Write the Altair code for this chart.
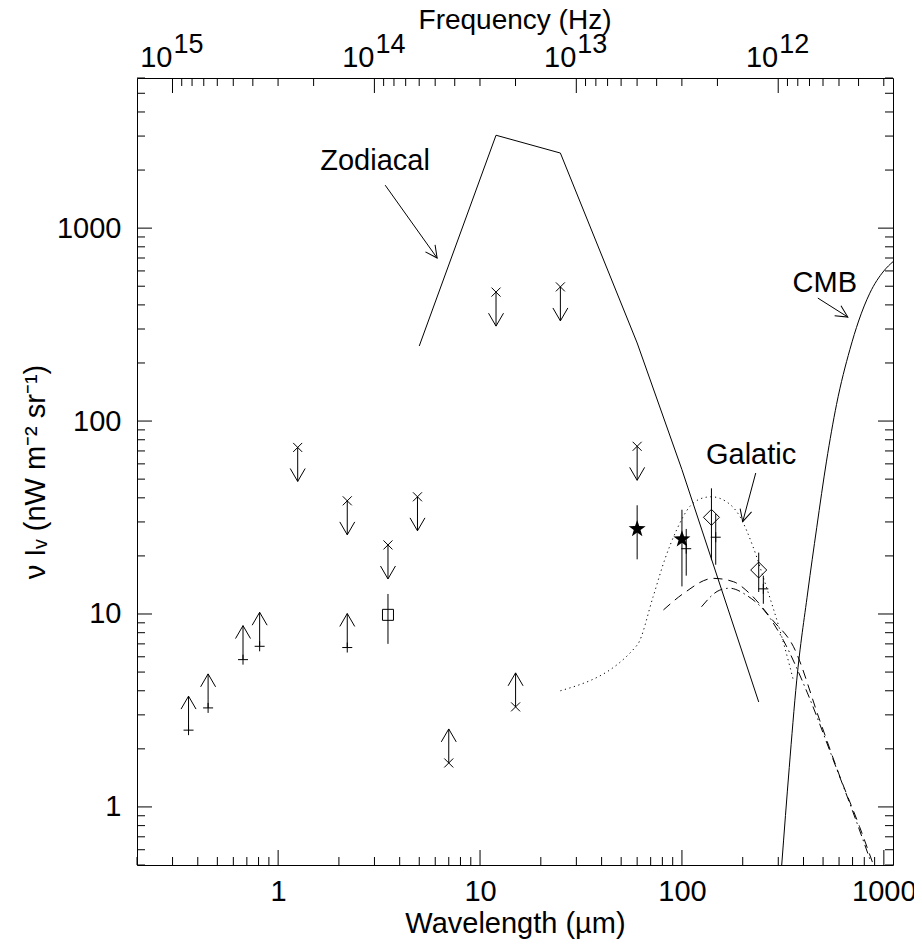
import math
import altair as alt
import pandas as pd

FONT = "Liberation Sans"
W, H = 756, 787
XD = [0.2, 1110]
YD = [0.5, 6000]

# ---------------- data ----------------
zodi_wl = [5, 12, 25, 60, 100, 240]
zodi_val = [245, 3030, 2450, 254, 56, 3.5]

cmb_wl = [312, 340, 370, 420, 465, 520, 583, 679, 750, 852, 1000, 1110]
cmb_val = [0.5, 1.6, 4.5, 13, 28, 62, 122, 235, 330, 460, 600, 670]

gal_wl = [25, 60, 72, 82, 94, 110, 132, 140, 166, 194, 225, 262, 305, 343, 356]
gal_val = [4.0, 6.9, 12.3, 19.0, 27.2, 36.3, 40.3, 40.5, 38.2, 31.9, 22.3, 13.8, 8.3, 5.3, 4.55]

dash_wl = [81, 102, 143, 180, 216, 281, 356, 482, 605, 758, 882]
dash_val = [10.5, 12.8, 15.3, 14.7, 12.8, 9.3, 6.8, 2.8, 1.44, 0.79, 0.51]

dd_wl = [125, 154, 172, 209, 262, 318, 418, 562, 706, 856]
dd_val = [10.9, 13.3, 13.6, 12.5, 10.1, 7.3, 3.9, 1.75, 0.93, 0.53]

# lower limits drawn as "+" with an upward arrow
llp_wl = [0.36, 0.45, 0.67, 0.81, 2.2]
llp_val = [2.5, 3.26, 5.8, 6.8, 6.7]
# upper limits drawn as "x" with a downward arrow
ul_wl = [1.25, 2.2, 3.5, 4.9, 12, 25, 60]
ul_val = [73, 38.6, 22.8, 40.5, 466, 496, 74]
# lower limits drawn as "x" with an upward arrow
llx_wl = [7.0, 15]
llx_val = [1.69, 3.3]

sq_wl = [3.5]
sq_val = [9.9]
sq_lo = [7.0]
sq_hi = [12.7]

star_wl = [60, 100]
star_val = [27.6, 24.4]
star_lo = [19.2, 13.9]
star_hi = [36.6, 34.7]

plus_wl = [105, 147, 253]
plus_val = [21.8, 25, 13.5]
plus_lo = [15.8, 18, 11.3]
plus_hi = [27.6, 33, 15.8]

dia_wl = [140, 240]
dia_val = [31.7, 16.9]
dia_lo = [19.0, 13.0]
dia_hi = [44.8, 20.8]

ann_text = ["Zodiacal", "Galatic", "CMB"]
ann_x = [3.02, 220, 510]
ann_y = [2225, 66.7, 519]
arr_x1 = [3.39, 232, 471]
arr_y1 = [1670, 53.8, 434]
arr_x2 = [6.13, 200, 663]
arr_y2 = [700, 30.1, 346]
arr_angle = [144.5, 195.3, 122.3]

x_major = [1, 10, 100, 1000]
x_minor = [0.2, 0.3, 0.4, 0.5, 0.6, 0.7, 0.8, 0.9,
           2, 3, 4, 5, 6, 7, 8, 9,
           20, 30, 40, 50, 60, 70, 80, 90,
           200, 300, 400, 500, 600, 700, 800, 900]
y_major = [1, 10, 100, 1000]
y_minor = [0.5, 0.6, 0.7, 0.8, 0.9, 2, 3, 4, 5, 6, 7, 8, 9,
           20, 30, 40, 50, 60, 70, 80, 90,
           200, 300, 400, 500, 600, 700, 800, 900,
           2000, 3000, 4000, 5000, 6000]
f_major_exp = [15, 14, 13, 12]
f_minor_mant = [2, 3, 4, 5, 6, 7, 8, 9]
f_minor_exp = [11, 12, 13, 14]

C_UM = 2.99792458e14  # c in micron * Hz

# ---------------- scales / axes ----------------
xs = alt.Scale(type="log", domain=XD, nice=False, zero=False)
ys = alt.Scale(type="log", domain=YD, nice=False, zero=False)

XA = alt.Axis(values=x_major, format="~g", ticks=False, domain=False, grid=False,
              labelFont=FONT, labelFontSize=29, labelColor="black", labelPadding=12,
              labelFlush=False, labelOverlap=False,
              title="Wavelength (µm)", titleFont=FONT, titleFontSize=29,
              titleFontWeight="normal", titleColor="black", titlePadding=3)
YA = alt.Axis(values=y_major, format="~g", ticks=False, domain=False, grid=False,
              labelFont=FONT, labelFontSize=29, labelColor="black", labelPadding=16,
              labelFlush=False, labelOverlap=False,
              title="ν Iᵥ (nW m⁻² sr⁻¹)", titleFont=FONT, titleFontSize=29,
              titleFontWeight="normal", titleColor="black", titlePadding=6)


def X(f="wl"):
    return alt.X(f"{f}:Q", scale=xs, axis=XA)


def Y(f="val"):
    return alt.Y(f"{f}:Q", scale=ys, axis=YA)


def line(wl, val, dash=None, interp="linear"):
    df = pd.DataFrame({"wl": wl, "val": val})
    kw = dict(color="black", strokeWidth=1, clip=True, interpolate=interp)
    if dash:
        kw["strokeDash"] = dash
    return alt.Chart(df).mark_line(**kw).encode(x=X(), y=Y())


def errbars(wl, lo, hi):
    df = pd.DataFrame({"wl": wl, "lo": lo, "hi": hi})
    return alt.Chart(df).mark_rule(color="black", strokeWidth=1).encode(
        x=X(), y=Y("lo"), y2="hi:Q")


def points(wl, val, shape, size, filled=False):
    df = pd.DataFrame({"wl": wl, "val": val})
    if filled:
        m = alt.Chart(df).mark_point(shape=shape, size=size, filled=True, color="black",
                                     opacity=1, strokeWidth=0.5)
    else:
        m = alt.Chart(df).mark_point(shape=shape, size=size, filled=False, stroke="black",
                                     strokeWidth=1, opacity=1)
    return m.encode(x=X(), y=Y())


CROSS_X = "M-1,-1L1,1M-1,1L1,-1"
PLUS = "M-1,0L1,0M0,-1L0,1"
DIAMOND = "M-1,0L0,-1L1,0L0,1Z"
SQUARE = "M-1,-1L1,-1L1,1L-1,1Z"
DOWN = "M0,0L0,1M-0.22,0.62L0,1L0.22,0.62"
UP = "M0,0L0,-1M-0.22,-0.62L0,-1L0.22,-0.62"
HEAD = "M-0.5,1L0,0L0.5,1"
star_pts = []
for k in range(10):
    r = 1.0 if k % 2 == 0 else 0.40
    a = math.radians(-90 + 36 * k)
    star_pts.append(f"{r*math.cos(a):.3f},{r*math.sin(a):.3f}")
STAR = "M" + "L".join(star_pts) + "Z"
ARROW_SIZE = (2 * 34) ** 2

layers = []
layers.append(line(zodi_wl, zodi_val))
layers.append(line(cmb_wl, cmb_val, interp="monotone"))
layers.append(line(gal_wl, gal_val, dash=[1.2, 3.5], interp="monotone"))
layers.append(line(dash_wl, dash_val, dash=[9, 6], interp="monotone"))
layers.append(line(dd_wl, dd_val, dash=[9, 4, 1.5, 4], interp="monotone"))

# error bars
layers.append(errbars(sq_wl, sq_lo, sq_hi))
layers.append(errbars(star_wl, star_lo, star_hi))
layers.append(errbars(plus_wl, plus_lo, plus_hi))
layers.append(errbars(dia_wl, dia_lo, dia_hi))

# limits
layers.append(points(llp_wl, llp_val, PLUS, 100))
layers.append(points(llp_wl, llp_val, UP, ARROW_SIZE))
layers.append(points(ul_wl, ul_val, CROSS_X, 81))
layers.append(points(ul_wl, ul_val, DOWN, ARROW_SIZE))
layers.append(points(llx_wl, llx_val, CROSS_X, 81))
layers.append(points(llx_wl, llx_val, UP, ARROW_SIZE))

# detections
layers.append(points(sq_wl, sq_val, SQUARE, 121))
layers.append(points(star_wl, star_val, STAR, 320, filled=True))
layers.append(points(plus_wl, plus_val, PLUS, 100))
layers.append(points(dia_wl, dia_val, DIAMOND, 256))

# annotations
ann = pd.DataFrame({"t": ann_text, "wl": ann_x, "val": ann_y})
layers.append(alt.Chart(ann).mark_text(font=FONT, fontSize=29, color="black", align="center",
                                       baseline="middle").encode(x=X(), y=Y(), text="t:N"))
arr = pd.DataFrame({"x1": arr_x1, "y1": arr_y1, "x2": arr_x2, "y2": arr_y2, "ang": arr_angle})
layers.append(alt.Chart(arr).mark_rule(color="black", strokeWidth=1).encode(
    x=X("x1"), y=Y("y1"), x2="x2:Q", y2="y2:Q"))
layers.append(alt.Chart(arr).mark_point(shape=HEAD, size=560, filled=False, stroke="black",
                                        strokeWidth=1, opacity=1).encode(
    x=X("x2"), y=Y("y2"), angle=alt.Angle("ang:Q", scale=None)))


# ---------------- ticks (drawn inward) ----------------
def xticks(vals, length, top=False):
    df = pd.DataFrame({"wl": vals})
    if top:
        return alt.Chart(df).mark_rule(color="black", strokeWidth=1).encode(
            x=X(), y=alt.value(0), y2=alt.value(length))
    return alt.Chart(df).mark_rule(color="black", strokeWidth=1).encode(
        x=X(), y=alt.value(H), y2=alt.value(H - length))


def yticks(vals, length, right=False):
    df = pd.DataFrame({"val": vals})
    if right:
        return alt.Chart(df).mark_rule(color="black", strokeWidth=1).encode(
            y=Y(), x=alt.value(W), x2=alt.value(W - length))
    return alt.Chart(df).mark_rule(color="black", strokeWidth=1).encode(
        y=Y(), x=alt.value(0), x2=alt.value(length))


f_major_wl = [C_UM / 10 ** e for e in f_major_exp]
f_minor_wl = []
for e in f_minor_exp:
    for m in f_minor_mant:
        wl = C_UM / (m * 10 ** e)
        if XD[0] <= wl <= XD[1]:
            f_minor_wl.append(wl)

layers.append(xticks(x_major, 15))
layers.append(xticks(x_minor, 8))
layers.append(xticks(f_major_wl, 15, top=True))
layers.append(xticks(f_minor_wl, 8, top=True))
layers.append(yticks(y_major, 15))
layers.append(yticks(y_minor, 8))
layers.append(yticks(y_major, 15, right=True))
layers.append(yticks(y_minor, 8, right=True))

# top (frequency) labels
ftop = pd.DataFrame({"wl": f_major_wl, "base": ["10"] * len(f_major_wl),
                     "exp": [str(e) for e in f_major_exp]})
layers.append(alt.Chart(ftop).mark_text(font=FONT, fontSize=29, color="black", align="right",
                                        baseline="alphabetic", dx=0).encode(
    x=X(), y=alt.value(-11), text="base:N"))
layers.append(alt.Chart(ftop).mark_text(font=FONT, fontSize=27, color="black", align="left",
                                        baseline="alphabetic", dx=1).encode(
    x=X(), y=alt.value(-25), text="exp:N"))
layers.append(alt.Chart(pd.DataFrame({"t": ["Frequency (Hz)"]})).mark_text(
    font=FONT, fontSize=28, color="black", align="center", baseline="alphabetic").encode(
    x=alt.value(W / 2), y=alt.value(-49), text="t:N"))

chart = alt.layer(*layers).properties(
    width=W, height=H,
    autosize=alt.AutoSizeParams(type="none"),
    padding={"left": 129, "top": 70, "right": 21, "bottom": 74},
    background="white",
).configure_view(stroke="black", strokeWidth=1)

chart.save("out.html", embed_options={"renderer": "svg", "actions": False})
